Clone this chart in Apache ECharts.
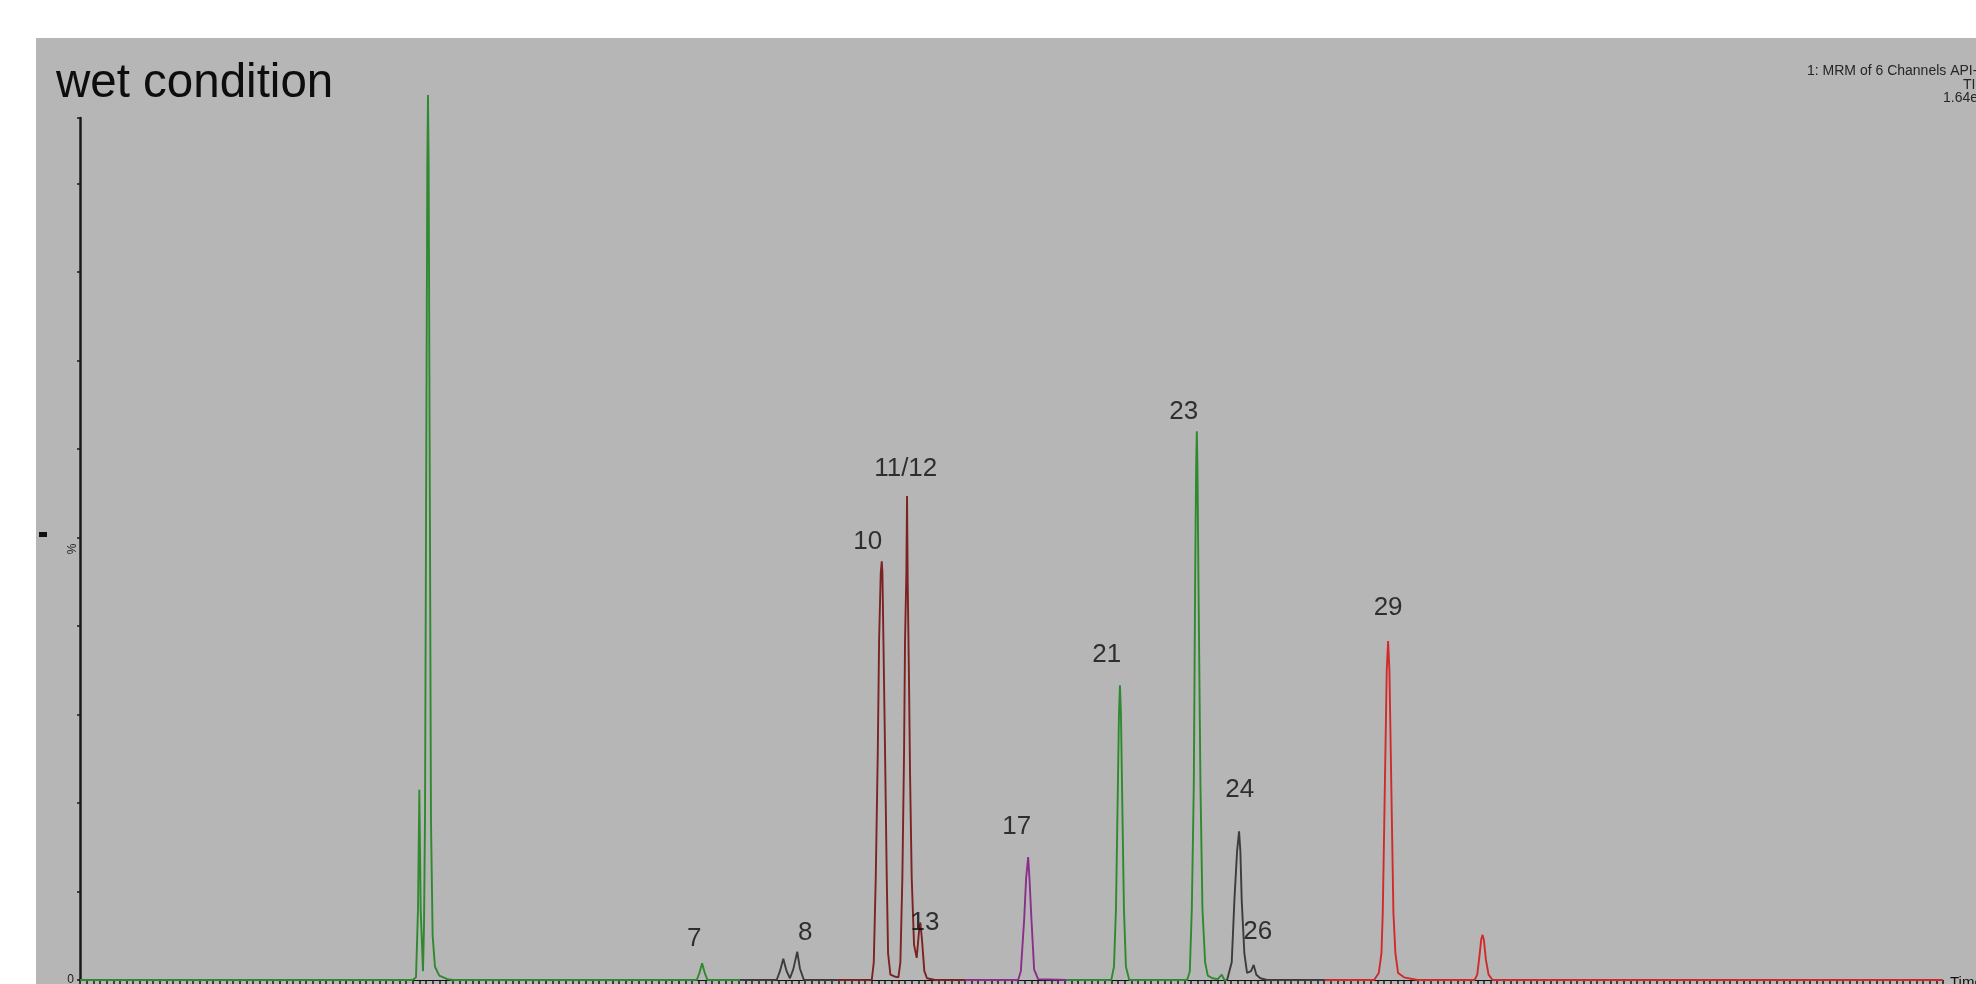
<!DOCTYPE html>
<html>
<head>
<meta charset="utf-8">
<title>wet condition</title>
<script src="https://cdn.jsdelivr.net/npm/echarts@6/dist/echarts.min.js"></script>
<style>
  html, body { margin: 0; padding: 0; background: #ffffff; overflow: hidden; }
  #chart { width: 1976px; height: 984px; }
</style>
</head>
<body>
<div id="chart"></div>
<script>
// MRM chromatogram, wet condition. Each trace is one acquisition window: [time (min), relative intensity %]
const traceGreenA = [
  [0, 0], [5.00, 0], [5.05, 0.3], [5.08, 8], [5.10, 21.5], [5.12, 8], [5.155, 1.0],
  [5.17, 6], [5.185, 18], [5.20, 50], [5.22, 92], [5.23, 100], [5.24, 92], [5.26, 50],
  [5.275, 18], [5.30, 5], [5.335, 1.5], [5.40, 0.5], [5.52, 0.1], [5.60, 0],
  [9.27, 0], [9.31, 0.8], [9.35, 1.9], [9.39, 0.8], [9.43, 0], [9.92, 0]
];
const traceGreyA = [
  [9.92, 0], [10.47, 0], [10.52, 1.0], [10.57, 2.4], [10.62, 1.0], [10.67, 0.2],
  [10.72, 1.2], [10.78, 3.2], [10.82, 1.3], [10.88, 0], [11.38, 0]
];
const traceMaroon = [
  [11.38, 0], [11.90, 0], [11.93, 2], [11.96, 11.6], [11.99, 25.6], [12.01, 38.4],
  [12.035, 46], [12.05, 47.3], [12.06, 46], [12.075, 38.4], [12.10, 25.6], [12.125, 11.6],
  [12.145, 3], [12.18, 0.6], [12.24, 0.4], [12.30, 0.3], [12.33, 2], [12.36, 11.6],
  [12.385, 25.6], [12.40, 38.4], [12.42, 46], [12.43, 54.7], [12.44, 45], [12.46, 33.5],
  [12.475, 23.4], [12.50, 11.6], [12.535, 4], [12.575, 2.5], [12.61, 5.5], [12.63, 6.5],
  [12.655, 4.5], [12.69, 1], [12.73, 0.2], [12.85, 0], [13.30, 0]
];
const tracePurple = [
  [13.30, 0], [14.10, 0], [14.14, 1], [14.19, 6.8], [14.22, 11.5], [14.25, 13.9],
  [14.27, 11.5], [14.30, 6.8], [14.34, 1.2], [14.40, 0.1], [14.83, 0]
];
const traceGreenB = [
  [14.83, 0], [15.50, 0], [15.54, 1.5], [15.57, 8], [15.595, 20], [15.615, 30], [15.63, 33.3],
  [15.645, 30], [15.665, 20], [15.69, 8], [15.72, 1.5], [15.77, 0],
  [16.64, 0], [16.68, 1], [16.71, 8], [16.74, 22], [16.76, 45], [16.775, 58], [16.785, 62],
  [16.795, 58], [16.81, 45], [16.84, 22], [16.87, 8], [16.91, 2], [16.95, 0.5], [17.02, 0.2],
  [17.10, 0.1], [17.16, 0.6], [17.20, 0], [17.24, 0]
];
const traceGreyB = [
  [17.24, 0], [17.27, 0.2], [17.31, 2], [17.35, 9], [17.39, 14.5], [17.42, 16.8], [17.44, 14.5],
  [17.46, 9], [17.50, 3], [17.54, 0.8], [17.60, 1.0], [17.64, 1.7], [17.68, 0.6], [17.74, 0.2],
  [17.84, 0], [18.71, 0]
];
const traceRed = [
  [18.71, 0], [19.45, 0], [19.52, 0.8], [19.56, 3], [19.58, 7.6], [19.605, 18.9], [19.625, 28.2],
  [19.64, 35], [19.66, 38.3], [19.68, 35], [19.695, 28.2], [19.715, 18.9], [19.74, 7.6],
  [19.77, 3], [19.81, 0.8], [19.90, 0.3], [20.10, 0],
  [20.96, 0], [21.00, 0.6], [21.03, 2.5], [21.06, 4.6], [21.08, 5.1], [21.10, 4.5], [21.13, 2.3],
  [21.17, 0.6], [21.23, 0], [28.00, 0]
];

// Peak numbers and where they sit (time, intensity % at the foot of the text)
const peakNames = ['2', '7', '8', '10', '11/12', '13', '17', '21', '23', '24', '26', '29'];
const peakLabelTimes = [5.61, 9.23, 10.90, 11.84, 12.41, 12.70, 14.08, 15.43, 16.59, 17.43, 17.70, 19.66];
const peakLabelLevels = [97.9, 3.7, 4.4, 48.6, 56.8, 5.6, 16.4, 35.8, 63.3, 20.6, 4.5, 41.2];

const headerLines = ['1: MRM of 6 Channels API-', 'TIC', '1.64e7'];

const FONT = '"Liberation Sans", Arial, sans-serif';

const traces = [
  { data: traceGreenA, color: '#2f8a2f' },
  { data: traceGreyA, color: '#3c3c3c' },
  { data: traceMaroon, color: '#7c2222' },
  { data: tracePurple, color: '#8a2f8a' },
  { data: traceGreenB, color: '#2f8a2f' },
  { data: traceGreyB, color: '#3c3c3c' },
  { data: traceRed, color: '#d22a2a' }
];

const chart = echarts.init(document.getElementById('chart'), null, { renderer: 'canvas' });

const series = traces.map(t => ({
  type: 'line',
  data: t.data,
  showSymbol: false,
  clip: false,
  silent: true,
  z: 5,
  lineStyle: { color: t.color, width: 1.9 }
}));

series.push({
  type: 'scatter',
  data: peakLabelTimes.map((t, i) => ({ value: [t, peakLabelLevels[i]], name: peakNames[i] })),
  symbolSize: 0,
  silent: true,
  z: 6,
  label: {
    show: true,
    position: 'top',
    distance: 0,
    offset: [0, 5],
    formatter: p => p.name,
    fontFamily: FONT,
    fontSize: 26,
    color: '#0d0d0d'
  }
});

chart.setOption({
  backgroundColor: '#ffffff',
  animation: false,
  grid: { left: 80, right: 33, top: 118, bottom: 4, containLabel: false, outerBoundsMode: 'none' },
  xAxis: {
    type: 'value',
    min: 0,
    max: 28,
    interval: 1,
    name: 'Time',
    nameLocation: 'end',
    nameGap: 7,
    nameTextStyle: { fontFamily: FONT, fontSize: 15, color: '#111', verticalAlign: 'top', padding: [-5, 0, 0, 0] },
    axisLine: { show: true, lineStyle: { color: '#111111', width: 1 } },
    axisTick: { show: true, inside: false, length: 4, lineStyle: { color: '#111111', width: 1.5 } },
    minorTick: { show: true, splitNumber: 10, length: 4, lineStyle: { color: '#1a1a1a', width: 1.5 } },
    axisLabel: { show: false },
    splitLine: { show: false }
  },
  yAxis: {
    type: 'value',
    min: 0,
    max: 97.4,
    interval: 10,
    name: '%',
    nameLocation: 'middle',
    nameRotate: 90,
    nameGap: 1,
    nameMoveOverlap: false,
    nameTextStyle: { fontFamily: FONT, fontSize: 12, color: '#222' },
    axisLine: { show: true, lineStyle: { color: '#1a1a1a', width: 2.5 } },
    axisTick: { show: true, inside: false, length: 3, lineStyle: { color: '#1a1a1a', width: 1.5 } },
    axisLabel: {
      show: true,
      margin: 6,
      fontFamily: FONT,
      fontSize: 12,
      color: '#222',
      formatter: v => (v === 0 ? '0' : '')
    },
    splitLine: { show: false }
  },
  graphic: [
    {
      type: 'rect',
      z: -10,
      silent: true,
      shape: { x: 36, y: 38, width: 1976 - 36, height: 984 - 38 },
      style: { fill: '#b6b6b6' }
    },
    {
      type: 'text',
      z: 10,
      silent: true,
      style: { x: 56, y: 84, text: 'wet condition', font: '47.5px ' + FONT, fill: '#0d0d0d', textVerticalAlign: 'middle' }
    },
    {
      type: 'rect',
      z: 10,
      silent: true,
      shape: { x: 39, y: 532, width: 8, height: 5 },
      style: { fill: '#111111' }
    },
    {
      type: 'text',
      z: 10,
      silent: true,
      style: { x: 1807, y: 71, text: headerLines[0], font: '14px ' + FONT, fill: '#262626', textVerticalAlign: 'middle' }
    },
    {
      type: 'text',
      z: 10,
      silent: true,
      style: { x: 1963, y: 85, text: headerLines[1], font: '14px ' + FONT, fill: '#262626', textVerticalAlign: 'middle' }
    },
    {
      type: 'text',
      z: 10,
      silent: true,
      style: { x: 1943, y: 98, text: headerLines[2], font: '14px ' + FONT, fill: '#262626', textVerticalAlign: 'middle' }
    }
  ],
  series: series
});
</script>
</body>
</html>
